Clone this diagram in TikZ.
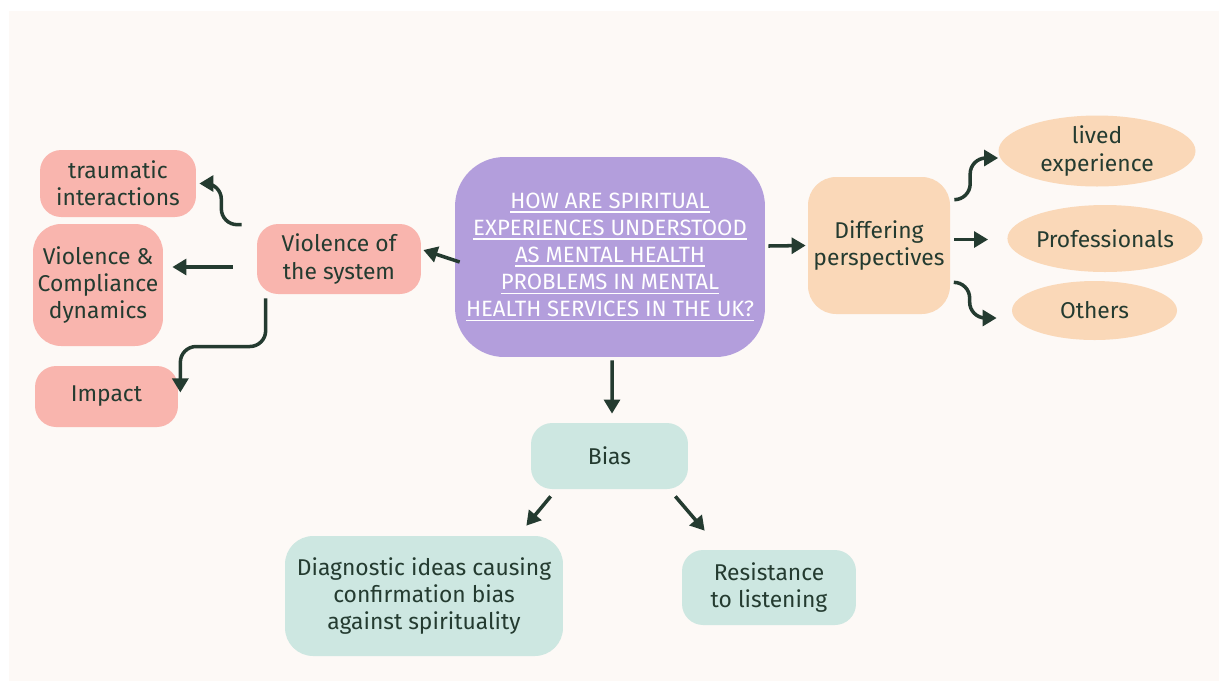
\documentclass[tikz,border=0pt]{standalone}
\usepackage{fontspec}
\setmainfont{Fira Sans}
\usetikzlibrary{arrows.meta,shapes.geometric}

\definecolor{paper}{HTML}{FDF9F6}
\definecolor{hubpurple}{HTML}{B39EDC}
\definecolor{syspink}{HTML}{F9B5AE}
\definecolor{viewpeach}{HTML}{FAD8B8}
\definecolor{biasmint}{HTML}{CDE7E1}
\definecolor{ink}{HTML}{243B30}

\tikzset{
  box/.style={rounded corners=12, inner sep=0pt, align=center, text=ink,
    font=\fontsize{13}{15.6}\selectfont},
  pinkbox/.style={box, fill=syspink},
  peachbox/.style={box, fill=viewpeach},
  mintbox/.style={box, fill=biasmint},
  peachoval/.style={ellipse, fill=viewpeach, inner sep=0pt, align=center,
    text=ink, font=\fontsize{13}{15.6}\selectfont},
  arr/.style={-{Triangle[length=8pt,width=9pt]}, line width=2pt, draw=ink,
    rounded corners=9},
}
% underlined line of the question, rule at a fixed depth
\newcommand{\ul}[1]{\setbox0\hbox{#1}\rlap{\rule[-2.6pt]{\wd0}{0.9pt}}\box0}

\begin{document}
\begin{tikzpicture}[x=0.02cm,y=-0.02cm]
  % page and paper
  \useasboundingbox (0,0) rectangle (1219,681);
  \fill[white] (0,0) rectangle (1219,681);
  \fill[paper] (9,11) rectangle (1219,681);

  % main question
  \node[box, fill=hubpurple, rounded corners=28, text=white,
        minimum width=6.2cm, minimum height=4cm,
        font=\fontsize{12.6}{15.4}\selectfont] (hub) at (610,257)
    {\ul{HOW ARE SPIRITUAL}\\ \ul{EXPERIENCES UNDERSTOOD}\\ \ul{AS MENTAL HEALTH}\\
     \ul{PROBLEMS IN MENTAL}\\ \ul{HEALTH SERVICES IN THE UK?}};

  % left branch
  \node[pinkbox, minimum width=3.28cm, minimum height=1.4cm] (sys) at (339,259)
    {Violence of\\the system};
  \node[pinkbox, minimum width=3.12cm, minimum height=1.34cm] (trauma) at (118,183.5)
    {traumatic\\interactions};
  \node[pinkbox, rounded corners=16, minimum width=2.6cm, minimum height=2.44cm] (comply) at (98,285)
    {Violence \&\\Compliance\\dynamics};
  \node[pinkbox, minimum width=2.86cm, minimum height=1.22cm] (impact) at (106.5,396.5)
    {Impact};

  % right branch
  \node[peachbox, rounded corners=16, minimum width=2.84cm, minimum height=2.74cm] (diff) at (879,245.5)
    {Differing\\perspectives};
  \node[peachoval, minimum width=3.94cm, minimum height=1.42cm] (lived) at (1097,151)
    {lived\\experience};
  \node[peachoval, minimum width=3.72cm, minimum height=1.34cm] (prof) at (1105,238.5)
    {Professionals};
  \node[peachoval, minimum width=3.3cm, minimum height=1.18cm] (others) at (1094.5,310.5)
    {Others};

  % lower branch
  \node[mintbox, minimum width=3.14cm, minimum height=1.32cm] (bias) at (609.5,456)
    {Bias};
  \node[mintbox, rounded corners=16, minimum width=5.56cm, minimum height=2.4cm] (diag) at (424,596)
    {Diagnostic ideas causing\\confirmation bias\\against spirituality};
  \node[mintbox, minimum width=3.48cm, minimum height=1.5cm] (resist) at (769,587.5)
    {Resistance\\to listening};

  % connectors
  \draw[arr] ([shift={(5,5)}]hub.west) -- ([shift={(2,-9)}]sys.east);
  \draw[arr] ([shift={(-15,1)}]sys.north west) -| ([shift={(25,0)}]trauma.east)
    -- ([shift={(3,0)}]trauma.east);
  \draw[arr] ([shift={(-24,8)}]sys.west) -- ([shift={(9,-18)}]comply.east);
  \draw[arr] ([shift={(9,4)}]sys.south west) |- ([shift={(2,-50)}]impact.east)
    -- ([shift={(2,-4)}]impact.east);

  \draw[arr] ([shift={(3,-11)}]hub.east) -- ([shift={(-2,0)}]diff.west);
  \draw[arr] ([shift={(4,23)}]diff.north east) -| ([shift={(-28,7)}]lived.west)
    -- ([shift={(0,7)}]lived.west);
  \draw[arr] ([shift={(4,-6)}]diff.east) -- ([shift={(-19,1)}]prof.west);
  \draw[arr] ([shift={(4,-32)}]diff.south east) -| ([shift={(-42,7.5)}]others.west)
    -- ([shift={(-15,7.5)}]others.west);

  \draw[arr] ([shift={(2,3)}]hub.south) -- ([shift={(2.5,-9)}]bias.north);
  \draw[arr] ([shift={(20,7)}]bias.south west) -- ([shift={(-37,-10)}]diag.north east);
  \draw[arr] ([shift={(-13,7)}]bias.south east) -- ([shift={(23,-19)}]resist.north west);
\end{tikzpicture}
\end{document}
